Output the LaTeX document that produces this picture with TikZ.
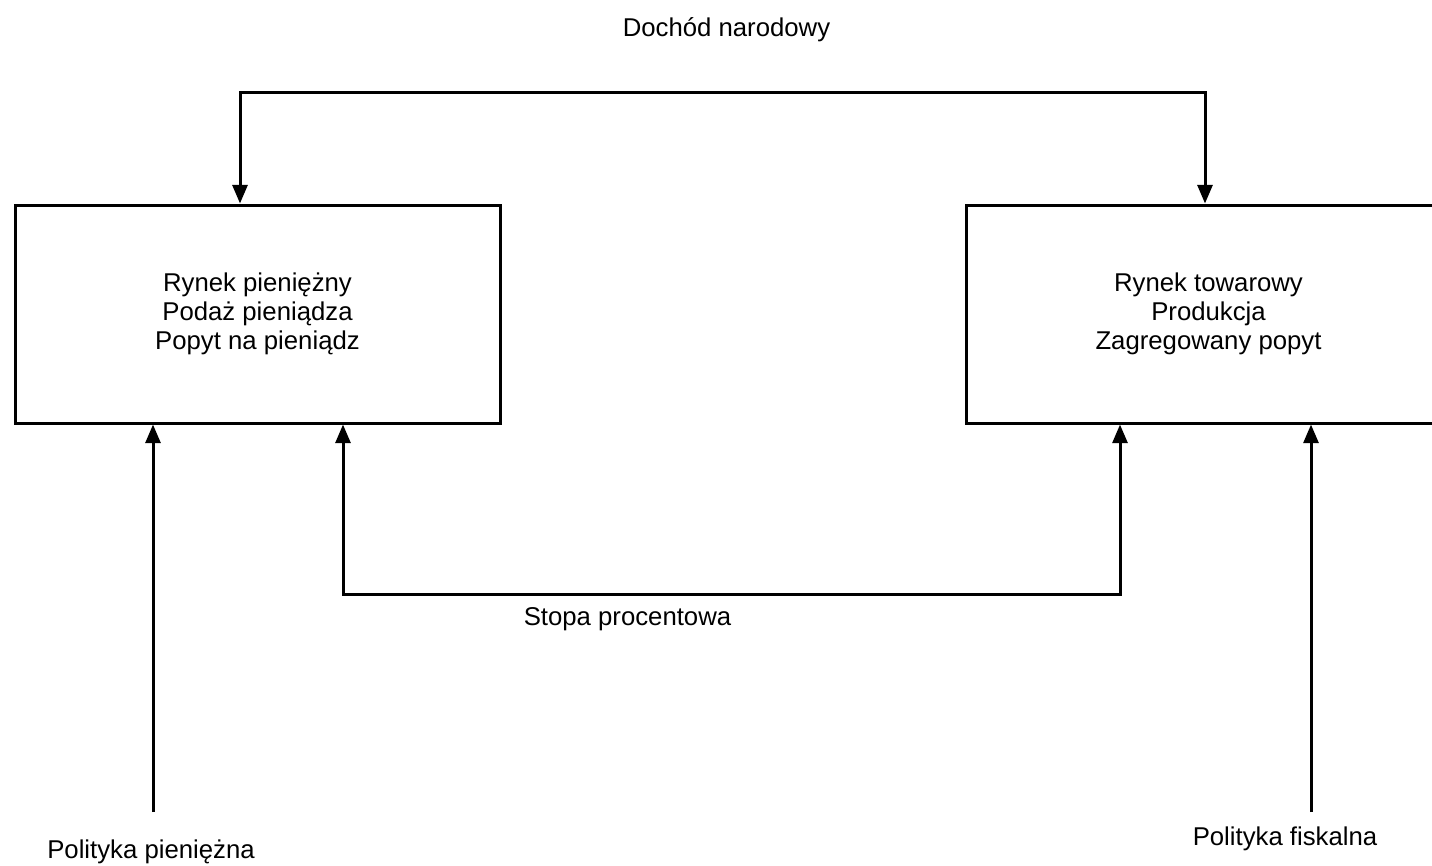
\documentclass[tikz,border=0pt]{standalone}
\usepackage{fontspec}
\setmainfont{Liberation Sans}
\usetikzlibrary{arrows.meta}

\tikzset{every picture/.style={line width=2.25pt}}
\tikzset{
  market/.style={draw, line width=2.25pt, minimum width=363.75pt, minimum height=163.5pt,
    align=center, inner sep=0pt, font=\fontsize{19.3pt}{21.75pt}\selectfont},
  lbl/.style={anchor=base, inner sep=0.75pt, font=\fontsize{19.3pt}{21.75pt}\selectfont},
  flow/.style={-{Triangle[width=11.25pt,length=14pt]}, line width=2.25pt},
  flowboth/.style={{Triangle[width=11.25pt,length=14pt]}-{Triangle[width=11.25pt,length=14pt]}, line width=2.25pt}
}

\begin{document}
\begin{tikzpicture}[x=0.75pt,y=0.75pt,yscale=-1,xscale=1]
%set diagram to 1432 x 865, the goods box runs off the right edge
\clip (0,0) rectangle (1432,865);

% Markets
\node [market] (money) at (257.5,314) {Rynek pieniężny\\Podaż pieniądza\\Popyt na pieniądz};
\node [market] (goods) at (1208.5,314) {Rynek towarowy\\Produkcja\\Zagregowany popyt};

% Corners and free ends
\coordinate (incL) at (240,92);
\coordinate (incR) at (1205,92);
\coordinate (rateL) at (343,594);
\coordinate (rateR) at (1120,594);
\coordinate (monp) at (153,812);
\coordinate (fisp) at (1311,812);

%Straight Lines
\draw [flowboth] (money.north -| incL) |- (incR) -- (goods.north -| incR);
\draw [flowboth] (money.south -| rateL) |- (rateR) -- (goods.south -| rateR);
\draw [flow] (monp) -- (money.south -| monp);
\draw [flow] (fisp) -- (goods.south -| fisp);

% Text Node
\node [lbl] (income) at (726.5,36) {Dochód narodowy};
% Text Node
\node [lbl] (rate) at (627.5,625) {Stopa procentowa};
% Text Node
\node [lbl] (monpol) at (151,858) {Polityka pieniężna};
% Text Node
\node [lbl] (fispol) at (1285,845) {Polityka fiskalna};

\end{tikzpicture}
\end{document}
